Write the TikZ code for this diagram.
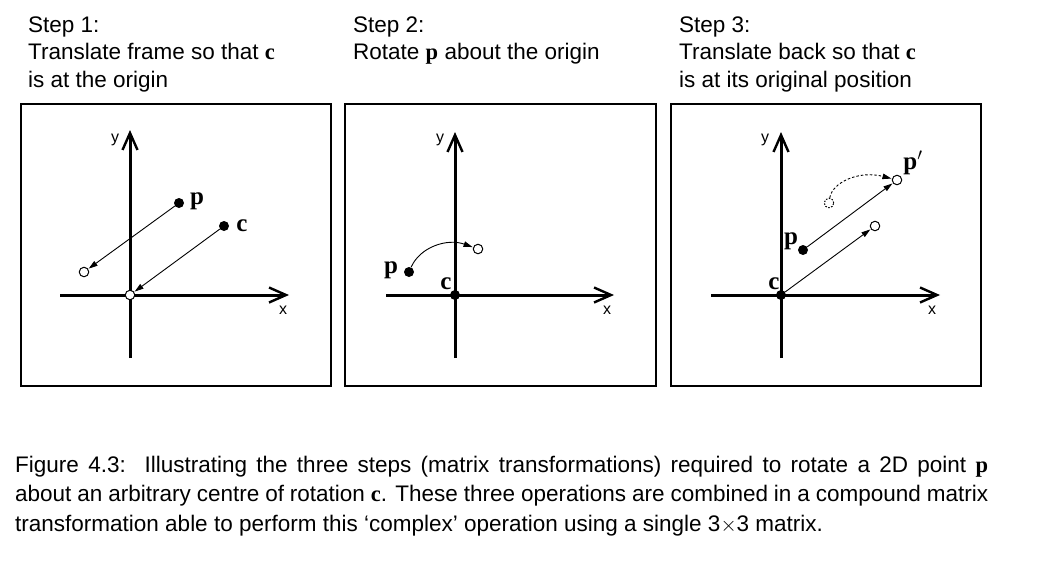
\documentclass[tikz,border=0pt]{standalone}
\usepackage[no-math]{fontspec}
\setmainfont{Liberation Sans}
\newfontfamily\serifbold{Liberation Serif}
\newcommand{\bv}[1]{{\serifbold\bfseries #1}}
\usetikzlibrary{arrows.meta}
\begin{document}
\begin{tikzpicture}[x=1pt,y=-1pt,
  frame/.style={draw=black,line width=1.2pt},
  axis/.style={line width=3pt,-{Straight Barb[length=17pt,width=15pt,line width=2.4pt]}},
  vec/.style={line width=0.9pt,-{Triangle[length=9pt,width=5.5pt]},shorten >=0.5pt},
  dot/.style={circle,inner sep=0pt,minimum size=10pt,fill=black},
  hol/.style={circle,inner sep=0pt,minimum size=9.5pt,draw=black,line width=1pt,fill=white},
  hold/.style={hol,dashed,dash pattern=on 1.5pt off 1.5pt},
  axl/.style={font=\fontsize{16}{16}\selectfont,inner sep=0pt},
  bl/.style={font=\fontsize{25}{25}\serifbold\bfseries,inner sep=0pt},
  head/.style={anchor=base west,inner sep=0pt,font=\fontsize{22.5}{27.5}\selectfont,align=left},
  captext/.style={anchor=base west,inner sep=0pt,font=\fontsize{22.5}{30}\selectfont}
]
\useasboundingbox (0,0) rectangle (1048,565);
\fill[white] (0,0) rectangle (1048,565);

% headings
\node[head] (h1) at (28,32) {Step 1:};
\node[head] (h1b) at (28,59.5) {Translate frame so that \bv{c}};
\node[head] (h1c) at (28,87) {is at the origin};
\node[head] (h2) at (353,32) {Step 2:};
\node[head] (h2b) at (353,59.5) {Rotate \bv{p} about the origin};
\node[head] (h3) at (679,32) {Step 3:};
\node[head] (h3b) at (679,59.5) {Translate back so that \bv{c}};
\node[head] (h3c) at (679,87) {is at its original position};

% frames
\draw[frame] (21,104) rectangle (331,386);
\draw[frame] (345,104) rectangle (656,386);
\draw[frame] (671,104) rectangle (981,386);

% ---------- panel 1
\coordinate (y1a) at (130,358);
\coordinate (y1b) at (130,130);
\coordinate (x1a) at (60,295);
\coordinate (x1b) at (289,295);
\draw[axis] (y1a) -- (y1b);
\draw[axis] (x1a) -- (x1b);
\node[axl] (ly1) at (115,140) {y};
\node[axl] (lx1) at (283,310) {x};
\node[dot] (p1) at (179,203) {};
\node[dot] (c1) at (224,226) {};
\node[hol] (p1o) at (84,272) {};
\node[hol] (c1o) at (130,295) {};
\node[bl] (lp1) at (197,201) {p};
\node[bl] (lc1) at (242,226) {c};
\draw[vec] (p1) -- (p1o);
\draw[vec] (c1) -- (c1o);

% ---------- panel 2
\coordinate (y2a) at (455,358);
\coordinate (y2b) at (455,132);
\coordinate (x2a) at (386,295);
\coordinate (x2b) at (614,295);
\draw[axis] (y2a) -- (y2b);
\draw[axis] (x2a) -- (x2b);
\node[axl] (ly2) at (440,140) {y};
\node[axl] (lx2) at (607,310) {x};
\node[dot] (c2) at (455,295) {};
\node[dot] (p2) at (409,272) {};
\node[hol] (q2) at (478,249) {};
\node[bl] (lp2) at (391,270) {p};
\node[bl] (lc2) at (446,284) {c};
\draw[vec] (p2) .. controls (420,247) and (447,238) .. (q2);

% ---------- panel 3
\coordinate (y3a) at (781,358);
\coordinate (y3b) at (781,132);
\coordinate (x3a) at (711,295);
\coordinate (x3b) at (940,295);
\draw[axis] (y3a) -- (y3b);
\draw[axis] (x3a) -- (x3b);
\node[axl] (ly3) at (765,140) {y};
\node[axl] (lx3) at (932,310) {x};
\node[dot] (c3) at (781,295) {};
\node[dot] (p3) at (803,250) {};
\node[hol] (c3o) at (875,226) {};
\node[hol] (p3o) at (897,180) {};
\node[hold] (d3) at (829,203) {};
\node[bl] (lp3) at (791,241) {p};
\node[bl] (lc3) at (774,284) {c};
\node[bl] (lpp3) at (913,163) {p$'$};
\draw[vec] (c3) -- (c3o);
\draw[vec] (p3) -- (p3o);
\draw[vec,dashed,dash pattern=on 2.5pt off 2pt] (d3) .. controls (832,183) and (858,170) .. (p3o);

% caption
\node[captext] (cp1) at (15,472) {\makebox[973pt][s]{Figure 4.3:\ \ Illustrating the three steps (matrix transformations) required to rotate a 2D point \bv{p}}};
\node[captext] (cp2) at (15,501.5) {\makebox[973pt][s]{about an arbitrary centre of rotation \bv{c}. These three operations are combined in a compound matrix}};
\node[captext] (cp3) at (15,531) {transformation able to perform this `complex' operation using a single 3$\times$3 matrix.};
\end{tikzpicture}
\end{document}
